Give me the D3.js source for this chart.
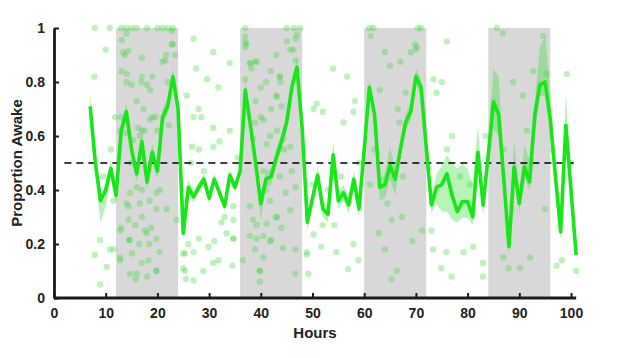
<!DOCTYPE html>
<html>
<head>
<meta charset="utf-8">
<script src="https://cdn.jsdelivr.net/npm/d3@7"></script>
<style>
  body { margin: 0; background: #fff; }
  text { font-family: "Liberation Sans", Arial, sans-serif; font-weight: bold; }
</style>
</head>
<body>
<script>
// hours of the awake curve
const hours = d3.range(7, 102);
const awake = [0.71, 0.50, 0.36, 0.40, 0.48, 0.38, 0.62, 0.69, 0.55, 0.46,
  0.58, 0.43, 0.54, 0.47, 0.67, 0.71, 0.82, 0.70, 0.24, 0.41,
  0.375, 0.41, 0.44, 0.37, 0.44, 0.39, 0.34, 0.455, 0.41, 0.47,
  0.77, 0.64, 0.50, 0.35, 0.44, 0.45, 0.52, 0.58, 0.65, 0.78,
  0.855, 0.63, 0.28, 0.37, 0.455, 0.33, 0.31, 0.53, 0.36, 0.39,
  0.345, 0.44, 0.33, 0.55, 0.78, 0.68, 0.41, 0.42, 0.49, 0.44,
  0.55, 0.65, 0.69, 0.82, 0.78, 0.56, 0.345, 0.41, 0.42, 0.46,
  0.38, 0.32, 0.357, 0.357, 0.30, 0.54, 0.344, 0.53, 0.727, 0.68,
  0.44, 0.19, 0.486, 0.35, 0.486, 0.43, 0.68, 0.79, 0.80, 0.66,
  0.45, 0.245, 0.64, 0.40, 0.16];
// confidence band, distance above / below the curve
const errUp = [0.05, 0.03, 0.02, 0.02, 0.03, 0.02, 0.03, 0.03, 0.02, 0.03,
  0.03, 0.03, 0.03, 0.03, 0.03, 0.03, 0.03, 0.03, 0.03, 0.03,
  0.02, 0.02, 0.02, 0.02, 0.02, 0.02, 0.02, 0.02, 0.02, 0.02,
  0.04, 0.03, 0.03, 0.03, 0.03, 0.03, 0.03, 0.03, 0.03, 0.03,
  0.03, 0.03, 0.03, 0.03, 0.03, 0.03, 0.03, 0.05, 0.03, 0.03,
  0.03, 0.03, 0.03, 0.03, 0.03, 0.03, 0.03, 0.04, 0.07, 0.04,
  0.04, 0.03, 0.03, 0.03, 0.03, 0.03, 0.03, 0.05, 0.07, 0.07,
  0.12, 0.16, 0.14, 0.12, 0.12, 0.10, 0.05, 0.05, 0.12, 0.14,
  0.07, 0.05, 0.10, 0.04, 0.08, 0.08, 0.05, 0.14, 0.17, 0.10,
  0.04, 0.03, 0.12, 0.04, 0.03];
const errDown = [0.03, 0.05, 0.08, 0.06, 0.03, 0.03, 0.03, 0.03, 0.03, 0.03,
  0.03, 0.03, 0.03, 0.03, 0.03, 0.03, 0.03, 0.03, 0.03, 0.03,
  0.02, 0.02, 0.02, 0.02, 0.02, 0.02, 0.02, 0.02, 0.02, 0.02,
  0.03, 0.03, 0.03, 0.06, 0.03, 0.03, 0.03, 0.03, 0.03, 0.03,
  0.03, 0.03, 0.03, 0.03, 0.03, 0.03, 0.03, 0.03, 0.03, 0.03,
  0.03, 0.03, 0.03, 0.03, 0.03, 0.03, 0.05, 0.05, 0.05, 0.06,
  0.03, 0.03, 0.03, 0.03, 0.03, 0.03, 0.03, 0.06, 0.10, 0.14,
  0.09, 0.04, 0.06, 0.06, 0.03, 0.04, 0.04, 0.04, 0.10, 0.08,
  0.04, 0.03, 0.04, 0.03, 0.04, 0.03, 0.08, 0.04, 0.05, 0.04,
  0.03, 0.03, 0.04, 0.03, 0.02];
// dark periods (shaded)
const darkStart = [12, 36, 60, 84];
const darkEnd = [24, 48, 72, 96];
// individual observations [hour, proportion]
const dotHour = [7.9, 10.8, 13, 14, 15, 16, 18, 20, 21, 22, 23, 10, 7.8, 14, 13.7, 14.1, 15, 17, 19, 21, 23, 21.7, 22, 18, 16, 17.3, 19, 20, 13, 14,
  27, 30.8, 34, 27.5, 25.7, 29.6, 31.8, 28, 27, 28.5, 30.8, 32, 34, 26.7, 28, 30.8,
  37, 37, 37.2, 39, 38, 37, 39, 41, 43, 45, 46.3, 46.7, 46.4, 47.6, 45, 43.7, 42, 43, 44, 43.8, 40, 38.5,
  54, 56.7, 50.8, 50.2, 52, 57.9, 56, 58.2, 61, 61.3, 61.8, 64, 65, 67, 69, 70, 70.4, 69.8, 70.2, 71, 68, 63, 66.5, 66.8,
  76, 73.4, 75, 74, 77, 85.7, 86.8, 88.8, 90.7, 92.7, 94.6, 95.3, 99.2, 85,
  8.9, 7.9, 8.9, 10.2, 10.8, 12.8, 13, 14, 14.5, 15.7, 16, 17, 18, 18, 19.8, 19.8, 20.4, 19.8, 21.8, 23.7,
  25, 25.3, 25.5, 26, 27, 27, 28, 28.9, 29.9, 30.8, 31, 31.8, 32.4, 33.4, 34.7, 34.7,
  37.9, 38.9, 39.8, 39.8, 41.8, 40.5, 43, 38.5,
  48.9, 48.9, 49.2, 50.2, 51.7, 54.6, 56.9, 57.9, 52, 58.9, 54.2,
  61.1, 62.8, 64, 65.3, 67.3, 66.3, 65.3, 69.3, 71.2, 73, 73.3, 74.9, 75.9, 76.9, 79.2, 81.1, 83, 83,
  86.9, 87.9, 90.1, 92.1, 95, 97.2, 98.2, 101,
  9.5, 11, 15, 17.5, 20.5, 26.5, 29, 33, 35.5, 41, 44.5, 50, 53, 55.5, 59, 62, 64.5, 67.5, 72.5, 76, 78.5, 80.5, 83.5, 87, 91.5, 96.5, 100,
  13.1, 13.4, 14.4, 17, 13.1, 14, 16.9, 18.6, 21.5, 22.8, 22.8, 23.4, 11.8, 12.8, 16.3, 17, 18.6, 19.6, 22.2, 15.3, 16.6,
  14.7, 16, 17, 14.4, 16.6, 18.5, 19.8, 14.4, 17, 18.8, 12.8, 17.6, 14.7, 16.5, 18.4, 15.1, 18.3, 12.8, 14.7, 19.8, 15.8,
  25, 25.3, 25, 11.5, 11.5,
  37, 37, 37.9, 39.2, 38.2, 40, 41.9, 43.7, 43.1, 45.7, 46.7, 47, 38.9, 40.5, 41.8, 43.1, 44.4, 45.7, 41.1,
  40.5, 43.7, 46, 46.7, 44.8, 41.8, 37.9, 43.1, 45.7, 39.2, 41.1, 44, 39.2, 42, 44.3, 40.5, 36.5, 39.8, 46.7, 46.7,
  34.7, 34.7, 34.5];
const dotValue = [1, 1, 1, 1, 1, 1, 1, 1, 1, 1, 1, 0.92, 0.82, 0.98, 0.9, 0.83, 0.79, 0.82, 0.82, 0.875, 0.94, 0.9, 0.8, 0.79, 0.73, 0.7, 0.67, 0.62, 0.67, 0.61,
  0.96, 0.91, 0.87, 0.85, 0.75, 0.81, 0.78, 0.7, 0.67, 0.67, 0.63, 0.58, 0.62, 0.56, 0.55, 0.56,
  1, 0.95, 0.94, 0.875, 0.87, 0.81, 0.73, 0.8, 0.9, 0.95, 0.92, 0.96, 1, 1, 1, 0.82, 0.7, 0.75, 0.71, 0.8, 0.67, 0.59,
  0.85, 0.82, 0.72, 0.7, 0.69, 0.69, 0.65, 0.73, 1, 0.97, 1, 0.91, 0.86, 0.875, 0.91, 0.92, 1, 0.94, 0.93, 1, 0.76, 0.77, 0.7, 0.65,
  0.95, 0.81, 0.8, 0.76, 0.6, 1, 0.98, 0.8, 0.75, 0.84, 0.97, 0.83, 0.83, 0.7,
  0.215, 0.16, 0.05, 0.115, 0.18, 0.15, 0.26, 0.35, 0.215, 0.27, 0.09, 0.13, 0.24, 0.08, 0.22, 0.1, 0.17, 0.33, 0.33, 0.29,
  0.165, 0.1, 0.07, 0.2, 0.17, 0.065, 0.22, 0.1, 0.19, 0.13, 0.21, 0.14, 0.28, 0.24, 0.22, 0.29,
  0.23, 0.18, 0.06, 0.1, 0.21, 0.23, 0.3, 0.29,
  0.17, 0.16, 0.09, 0.235, 0.19, 0.17, 0.107, 0.2, 0.27, 0.14, 0.27,
  0.42, 0.24, 0.18, 0.29, 0.3, 0.1, 0.07, 0.21, 0.25, 0.25, 0.18, 0.11, 0.17, 0.08, 0.17, 0.19, 0.13, 0.08,
  0.15, 0.11, 0.11, 0.15, 0.33, 0.12, 0.14, 0.1,
  0.45, 0.55, 0.5, 0.62, 0.4, 0.5, 0.47, 0.3, 0.52, 0.4, 0.55, 0.42, 0.4, 0.45, 0.5, 0.55, 0.35, 0.45, 0.48, 0.55, 0.45, 0.42, 0.6, 0.55, 0.62, 0.55, 0.5,
  0.955, 0.91, 0.915, 0.89, 0.84, 0.80, 0.80, 0.77, 0.88, 0.94, 0.99, 0.90, 0.67, 0.62, 0.63, 0.62, 0.66, 0.67, 0.64, 0.585, 0.6,
  0.39, 0.41, 0.40, 0.34, 0.35, 0.36, 0.39, 0.29, 0.30, 0.26, 0.25, 0.25, 0.215, 0.20, 0.20, 0.165, 0.14, 0.14, 0.09, 0.1, 0.07,
  0.36, 0.165, 0.11, 0.36, 0.18,
  0.97, 0.93, 0.87, 0.875, 0.85, 0.78, 0.84, 0.82, 0.745, 0.92, 0.88, 0.975, 0.65, 0.66, 0.6, 0.62, 0.59, 0.56, 0.57,
  0.47, 0.45, 0.47, 0.41, 0.39, 0.36, 0.34, 0.30, 0.325, 0.27, 0.275, 0.26, 0.22, 0.215, 0.185, 0.15, 0.14, 0.10, 0.18, 0.09,
  0.22, 0.34, 0.12];
const xTicks = [0, 10, 20, 30, 40, 50, 60, 70, 80, 90, 100];
const yTicks = [0, 0.2, 0.4, 0.6, 0.8, 1];

const W = 617, H = 358;
const svg = d3.select("body").append("svg").attr("width", W).attr("height", H);

const x = d3.scaleLinear().domain([0, 100]).range([54, 571]);
const y = d3.scaleLinear().domain([0, 1]).range([298, 28]);

// shaded dark phases
svg.append("g").selectAll("rect")
  .data(darkStart)
  .enter().append("rect")
  .attr("x", d => x(d))
  .attr("width", (d, i) => x(darkEnd[i]) - x(d))
  .attr("y", y(1))
  .attr("height", y(0) - y(1))
  .attr("fill", "#d8d8d8");

// scattered observations
svg.append("g").selectAll("circle")
  .data(dotHour)
  .enter().append("circle")
  .attr("cx", d => x(d))
  .attr("cy", (d, i) => y(dotValue[i]))
  .attr("r", 3.2)
  .attr("fill", "#38d638")
  .attr("fill-opacity", 0.32);

const curve = hours.map((h, i) => ({ h: h, v: awake[i], lo: awake[i] - errDown[i], hi: awake[i] + errUp[i] }));

// confidence band
svg.append("path")
  .datum(curve)
  .attr("d", d3.area().x(d => x(d.h)).y0(d => y(d.lo)).y1(d => y(d.hi)))
  .attr("fill", "#33dd33")
  .attr("fill-opacity", 0.35);

// dashed 0.5 reference
svg.append("line")
  .attr("x1", x(2)).attr("x2", x(100.5))
  .attr("y1", y(0.5)).attr("y2", y(0.5))
  .attr("stroke", "#000")
  .attr("stroke-width", 1.6)
  .attr("stroke-dasharray", "7,5");

// mean line
svg.append("path")
  .datum(curve)
  .attr("d", d3.line().x(d => x(d.h)).y(d => y(d.v)))
  .attr("fill", "none")
  .attr("stroke", "#19e619")
  .attr("stroke-width", 3.6)
  .attr("stroke-linejoin", "round");

// axes
const xAxis = svg.append("g")
  .attr("transform", `translate(0,${y(0)})`)
  .call(d3.axisBottom(x).tickValues(xTicks).tickSizeInner(-5).tickSizeOuter(0).tickPadding(10));
xAxis.select(".domain").attr("d", `M${x(0)},0H${x(101)}`);

const yAxis = svg.append("g")
  .attr("transform", `translate(${x(0)},0)`)
  .call(d3.axisLeft(y).tickValues(yTicks).tickSizeInner(-5).tickSizeOuter(0).tickPadding(9)
    .tickFormat(d => d === 0 || d === 1 ? d3.format("d")(d) : d3.format(".1f")(d)));

svg.selectAll(".domain").attr("stroke", "#1a1a1a").attr("stroke-width", 2.8);
svg.selectAll(".tick line").attr("stroke", "#1a1a1a").attr("stroke-width", 2);
svg.selectAll(".tick text").attr("font-size", 14).attr("fill", "#222");

svg.append("text")
  .attr("x", 315).attr("y", 338)
  .attr("text-anchor", "middle")
  .attr("font-size", 15)
  .attr("fill", "#222")
  .text("Hours");

svg.append("text")
  .attr("transform", `translate(22,${y(0.5)}) rotate(-90)`)
  .attr("text-anchor", "middle")
  .attr("font-size", 15)
  .attr("fill", "#222")
  .text("Proportion Awake");
</script>
</body>
</html>
